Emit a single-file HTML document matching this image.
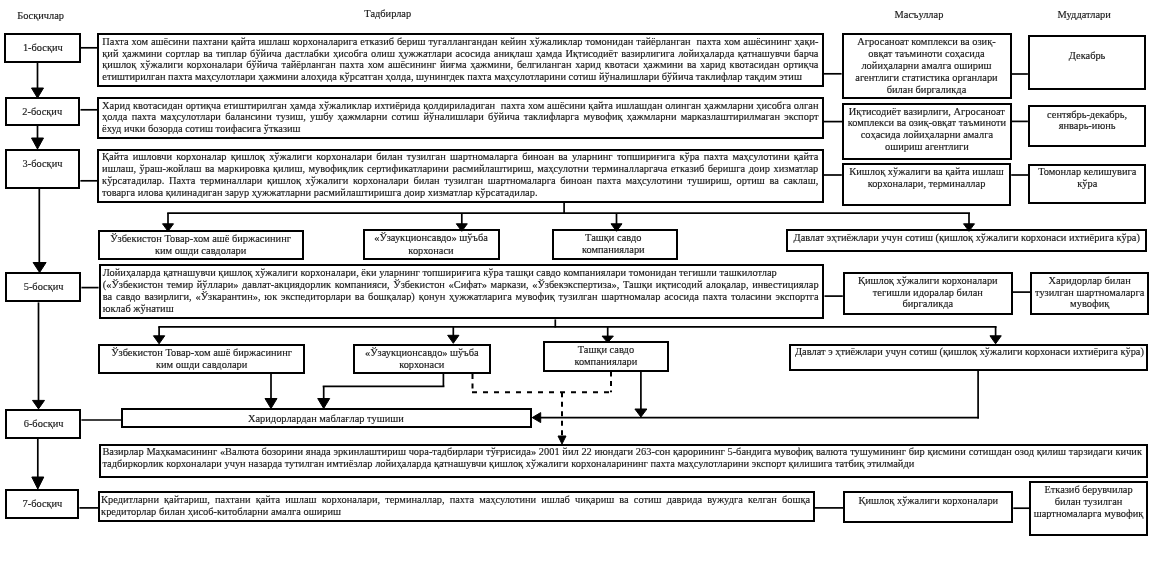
<!DOCTYPE html>
<html><head><meta charset="utf-8"><style>
html,body{margin:0;padding:0;background:#fff;}
body{width:1150px;height:586px;position:relative;overflow:hidden;font-family:"Liberation Serif",serif;color:#1a1a1a;-webkit-text-stroke:0.15px #1a1a1a;}
.bx{position:absolute;border:2px solid #000;box-sizing:border-box;}
.t{position:absolute;white-space:nowrap;line-height:11.5px;font-size:10.4px;}
.t.j{text-align:justify;text-align-last:justify;white-space:normal;}
.t.c{text-align:center;}
svg{position:absolute;left:0;top:0;}
#r{position:absolute;left:0;top:0;width:1150px;height:586px;background:#fff;filter:grayscale(1);}
</style></head><body><div id="r">
<div class="t" style="left:17.2px;top:9.7px;font-size:10.4px">Босқичлар</div>
<div class="t" style="left:364.3px;top:8.0px;font-size:10.4px">Тадбирлар</div>
<div class="t" style="left:894.6px;top:8.5px;font-size:10.4px">Масъуллар</div>
<div class="t" style="left:1057.6px;top:8.5px;font-size:10.4px">Муддатлари</div>
<div class="bx" style="left:4.0px;top:33.0px;width:77.0px;height:30.0px"></div>
<div class="t" style="left:22.9px;top:41.7px;font-size:10.4px">1-босқич</div>
<div class="bx" style="left:5.0px;top:97.0px;width:75.0px;height:29.0px"></div>
<div class="t" style="left:22.3px;top:106.2px;font-size:10.4px">2-босқич</div>
<div class="bx" style="left:5.0px;top:149.0px;width:75.0px;height:40.0px"></div>
<div class="t" style="left:22.6px;top:157.5px;font-size:10.4px">3-босқич</div>
<div class="bx" style="left:5.0px;top:272.0px;width:76.0px;height:30.0px"></div>
<div class="t" style="left:23.7px;top:280.7px;font-size:10.4px">5-босқич</div>
<div class="bx" style="left:5.0px;top:409.0px;width:76.0px;height:30.0px"></div>
<div class="t" style="left:23.7px;top:417.6px;font-size:10.4px">6-босқич</div>
<div class="bx" style="left:5.0px;top:489.0px;width:74.0px;height:30.0px"></div>
<div class="t" style="left:22.5px;top:497.5px;font-size:10.4px">7-босқич</div>
<div class="bx" style="left:97.0px;top:33.0px;width:727.0px;height:54.0px"></div>
<div class="t j" style="left:102.3px;width:716.2px;top:36.3px;font-size:10.4px">Пахта хом ашёсини пахтани қайта ишлаш корхоналарига етказиб бериш тугаллангандан кейин хўжаликлар томонидан тайёрланган&nbsp; пахта хом ашёсининг ҳақи-</div>
<div class="t j" style="left:102.3px;width:716.2px;top:47.8px;font-size:10.4px">қий ҳажмини сортлар ва типлар бўйича дастлабки ҳисобга олиш ҳужжатлари асосида аниқлаш ҳамда Иқтисодиёт вазирлигига лойиҳаларда қатнашувчи барча</div>
<div class="t j" style="left:102.3px;width:716.2px;top:59.3px;font-size:10.4px">қишлоқ хўжалиги корхоналари бўйича тайёрланган пахта хом ашёсининг йиғма ҳажмини, белгиланган харид квотаси ҳажмини ва харид квотасидан ортиқча</div>
<div class="t" style="left:102.3px;width:716.2px;top:70.8px;font-size:10.4px">етиштирилган пахта маҳсулотлари ҳажмини алоҳида кўрсатган ҳолда, шунингдек пахта маҳсулотларини сотиш йўналишлари бўйича таклифлар тақдим этиш</div>
<div class="bx" style="left:97.0px;top:97.0px;width:727.0px;height:42.0px"></div>
<div class="t j" style="left:102.1px;width:716.4px;top:99.8px;font-size:10.4px">Харид квотасидан ортиқча етиштирилган ҳамда хўжаликлар ихтиёрида қолдириладиган&nbsp; пахта хом ашёсини қайта ишлашдан олинган ҳажмларни ҳисобга олган</div>
<div class="t j" style="left:102.1px;width:716.4px;top:111.3px;font-size:10.4px">ҳолда пахта маҳсулотлари балансини тузиш, ушбу ҳажмларни сотиш йўналишлари бўйича таклифларга мувофиқ ҳажмларни марказлаштирилмаган экспорт</div>
<div class="t" style="left:102.1px;width:716.4px;top:122.7px;font-size:10.4px">ёхуд ички бозорда сотиш тоифасига ўтказиш</div>
<div class="bx" style="left:97.0px;top:149.0px;width:727.0px;height:54.0px"></div>
<div class="t j" style="left:102.1px;width:716.2px;top:151.1px;font-size:10.4px">Қайта ишловчи корхоналар қишлоқ хўжалиги корхоналари билан тузилган шартномаларга биноан ва уларнинг топшириғига кўра пахта маҳсулотини қайта</div>
<div class="t j" style="left:102.1px;width:716.2px;top:163.0px;font-size:10.4px">ишлаш, ўраш-жойлаш ва маркировка қилиш, мувофиқлик сертификатларини расмийлаштириш, маҳсулотни терминалларгача етказиб беришга доир хизматлар</div>
<div class="t j" style="left:102.1px;width:716.2px;top:175.0px;font-size:10.4px">кўрсатадилар. Пахта терминаллари қишлоқ хўжалиги корхоналари билан тузилган шартномаларга биноан пахта маҳсулотини тушириш, ортиш ва саклаш,</div>
<div class="t" style="left:102.1px;width:716.2px;top:186.8px;font-size:10.4px">товарга илова қилинадиган зарур ҳужжатларни расмийлаштиришга доир хизматлар кўрсатадилар.</div>
<div class="bx" style="left:99.0px;top:264.0px;width:725.0px;height:55.0px"></div>
<div class="t" style="left:102.8px;width:715.8px;top:266.9px;font-size:10.4px">Лойиҳаларда қатнашувчи қишлоқ хўжалиги корхоналари, ёки уларнинг топшириғига кўра ташқи савдо компаниялари томонидан тегишли ташкилотлар</div>
<div class="t j" style="left:102.8px;width:715.8px;top:278.7px;font-size:10.4px">(«Ўзбекистон темир йўллари» давлат-акциядорлик компанияси, Ўзбекистон «Сифат» маркази, «Ўзбекэкспертиза», Ташқи иқтисодий алоқалар, инвестициялар</div>
<div class="t j" style="left:102.8px;width:715.8px;top:290.6px;font-size:10.4px">ва савдо вазирлиги, «Ўзкарантин», юк экспедиторлари ва бошқалар) қонун ҳужжатларига мувофиқ тузилган шартномалар асосида пахта толасини экспортга</div>
<div class="t" style="left:102.8px;width:715.8px;top:303.0px;font-size:10.4px">юклаб жўнатиш</div>
<div class="bx" style="left:99.0px;top:444.0px;width:1049.0px;height:34.0px"></div>
<div class="t j" style="left:102.4px;width:1039.6px;top:446.4px;font-size:10.4px">Вазирлар Маҳкамасининг «Валюта бозорини янада эркинлаштириш чора-тадбирлари тўғрисида» 2001 йил 22 июндаги 263-сон қарорининг 5-бандига мувофиқ валюта тушумининг бир қисмини сотишдан озод қилиш тарзидаги кичик</div>
<div class="t" style="left:102.4px;width:1039.6px;top:457.6px;font-size:10.4px">тадбиркорлик корхоналари учун назарда тутилган имтиёзлар лойиҳаларда қатнашувчи қишлоқ хўжалиги корхоналарининг пахта маҳсулотларини экспорт қилишига татбиқ этилмайди</div>
<div class="bx" style="left:98.0px;top:491.0px;width:717.0px;height:31.0px"></div>
<div class="t j" style="left:101.1px;width:709.1px;top:494.1px;font-size:10.4px">Кредитларни қайтариш, пахтани қайта ишлаш корхоналари, терминаллар, пахта маҳсулотини ишлаб чиқариш ва сотиш даврида вужудга келган бошқа</div>
<div class="t" style="left:101.1px;width:709.1px;top:505.6px;font-size:10.4px">кредиторлар билан ҳисоб-китобларни амалга ошириш</div>
<div class="bx" style="left:842.0px;top:33.0px;width:170.0px;height:66.0px"></div>
<div class="t c" style="left:626.5px;width:600px;top:36.4px;font-size:10.4px">Агросаноат комплекси ва озиқ-</div>
<div class="t c" style="left:626.5px;width:600px;top:48.3px;font-size:10.4px">овқат таъминоти соҳасида</div>
<div class="t c" style="left:626.5px;width:600px;top:60.0px;font-size:10.4px">лойиҳаларни амалга ошириш</div>
<div class="t c" style="left:626.5px;width:600px;top:71.7px;font-size:10.4px">агентлиги статистика органлари</div>
<div class="t c" style="left:626.5px;width:600px;top:83.8px;font-size:10.4px">билан биргаликда</div>
<div class="bx" style="left:842.0px;top:103.0px;width:170.0px;height:57.0px"></div>
<div class="t c" style="left:626.9px;width:600px;top:105.5px;font-size:10.4px">Иқтисодиёт вазирлиги, Агросаноат</div>
<div class="t c" style="left:626.9px;width:600px;top:117.3px;font-size:10.4px">комплекси ва озиқ-овқат таъминоти</div>
<div class="t c" style="left:626.9px;width:600px;top:129.2px;font-size:10.4px">соҳасида лойиҳаларни амалга</div>
<div class="t c" style="left:626.9px;width:600px;top:140.7px;font-size:10.4px">ошириш агентлиги</div>
<div class="bx" style="left:842.0px;top:163.0px;width:169.0px;height:43.0px"></div>
<div class="t c" style="left:626.5px;width:600px;top:166.0px;font-size:10.4px">Кишлоқ хўжалиги ва қайта ишлаш</div>
<div class="t c" style="left:626.5px;width:600px;top:178.1px;font-size:10.4px">корхоналари, терминаллар</div>
<div class="bx" style="left:843.0px;top:272.0px;width:170.0px;height:43.0px"></div>
<div class="t c" style="left:627.8px;width:600px;top:274.7px;font-size:10.4px">Қишлоқ хўжалиги корхоналари</div>
<div class="t c" style="left:627.8px;width:600px;top:286.5px;font-size:10.4px">тегишли идоралар билан</div>
<div class="t c" style="left:627.8px;width:600px;top:298.3px;font-size:10.4px">биргаликда</div>
<div class="bx" style="left:843.0px;top:491.0px;width:170.0px;height:32.0px"></div>
<div class="t c" style="left:628.3px;width:600px;top:494.7px;font-size:10.4px">Қишлоқ хўжалиги корхоналари</div>
<div class="bx" style="left:1028.0px;top:35.0px;width:118.0px;height:55.0px"></div>
<div class="t c" style="left:787.1px;width:600px;top:49.5px;font-size:10.4px">Декабрь</div>
<div class="bx" style="left:1028.0px;top:105.0px;width:118.0px;height:42.0px"></div>
<div class="t c" style="left:787.1px;width:600px;top:108.9px;font-size:10.4px">сентябрь-декабрь,</div>
<div class="t c" style="left:787.1px;width:600px;top:119.6px;font-size:10.4px">январь-июнь</div>
<div class="bx" style="left:1028.0px;top:164.0px;width:118.0px;height:40.0px"></div>
<div class="t c" style="left:787.3px;width:600px;top:166.2px;font-size:10.4px">Томонлар келишувига</div>
<div class="t c" style="left:787.3px;width:600px;top:177.7px;font-size:10.4px">кўра</div>
<div class="bx" style="left:1030.0px;top:272.0px;width:119.0px;height:43.0px"></div>
<div class="t c" style="left:789.7px;width:600px;top:274.7px;font-size:10.4px">Харидорлар билан</div>
<div class="t c" style="left:789.7px;width:600px;top:286.5px;font-size:10.4px">тузилган шартномаларга</div>
<div class="t c" style="left:789.7px;width:600px;top:298.3px;font-size:10.4px">мувофиқ</div>
<div class="bx" style="left:1029.0px;top:481.0px;width:119.0px;height:55.0px"></div>
<div class="t c" style="left:788.5px;width:600px;top:484.0px;font-size:10.4px">Етказиб берувчилар</div>
<div class="t c" style="left:788.5px;width:600px;top:495.8px;font-size:10.4px">билан тузилган</div>
<div class="t c" style="left:788.5px;width:600px;top:507.5px;font-size:10.4px">шартномаларга мувофиқ</div>
<div class="bx" style="left:98.0px;top:230.0px;width:206.0px;height:30.0px"></div>
<div class="t c" style="left:-99.4px;width:600px;top:232.7px;font-size:10.4px">Ўзбекистон Товар-хом ашё биржасининг</div>
<div class="t c" style="left:-99.4px;width:600px;top:245.2px;font-size:10.4px">ким ошди савдолари</div>
<div class="bx" style="left:363.0px;top:229.0px;width:137.0px;height:31.0px"></div>
<div class="t c" style="left:131.0px;width:600px;top:232.0px;font-size:10.4px">«Ўзаукционсавдо» шўъба</div>
<div class="t c" style="left:131.0px;width:600px;top:244.5px;font-size:10.4px">корхонаси</div>
<div class="bx" style="left:552.0px;top:229.0px;width:126.0px;height:31.0px"></div>
<div class="t c" style="left:313.3px;width:600px;top:232.2px;font-size:10.4px">Ташқи савдо</div>
<div class="t c" style="left:313.3px;width:600px;top:244.2px;font-size:10.4px">компаниялари</div>
<div class="bx" style="left:786.0px;top:229.0px;width:361.0px;height:23.0px"></div>
<div class="t" style="left:793.6px;top:231.7px;font-size:10.4px">Давлат эҳтиёжлари учун сотиш (қишлоқ хўжалиги корхонаси ихтиёрига кўра)</div>
<div class="bx" style="left:98.0px;top:344.0px;width:207.0px;height:30.0px"></div>
<div class="t c" style="left:-98.4px;width:600px;top:346.7px;font-size:10.4px">Ўзбекистон Товар-хом ашё биржасининг</div>
<div class="t c" style="left:-98.4px;width:600px;top:358.5px;font-size:10.4px">ким ошди савдолари</div>
<div class="bx" style="left:353.0px;top:344.0px;width:138.0px;height:30.0px"></div>
<div class="t c" style="left:121.8px;width:600px;top:346.9px;font-size:10.4px">«Ўзаукционсавдо» шўъба</div>
<div class="t c" style="left:121.8px;width:600px;top:358.7px;font-size:10.4px">корхонаси</div>
<div class="bx" style="left:543.0px;top:341.0px;width:126.0px;height:31.0px"></div>
<div class="t c" style="left:305.9px;width:600px;top:344.4px;font-size:10.4px">Ташқи савдо</div>
<div class="t c" style="left:305.9px;width:600px;top:356.1px;font-size:10.4px">компаниялари</div>
<div class="bx" style="left:789.0px;top:344.0px;width:359.0px;height:27.0px"></div>
<div class="t" style="left:795.0px;top:346.4px;font-size:10.4px">Давлат э ҳтиёжлари учун сотиш (қишлоқ хўжалиги корхонаси ихтиёрига кўра)</div>
<div class="bx" style="left:121.0px;top:408.0px;width:411.0px;height:20.0px"></div>
<div class="t" style="left:248.0px;top:413.0px;font-size:10.4px">Харидорлардан маблағлар тушиши</div>
<svg width="1150" height="586" viewBox="0 0 1150 586" stroke="#000" fill="#000">
<line x1="37.5" y1="62.8" x2="37.5" y2="89" stroke-width="1.7"/>
<polygon points="31.5,88.0 43.5,88.0 37.5,98.0"/>
<line x1="37.5" y1="125.8" x2="37.5" y2="139" stroke-width="1.7"/>
<polygon points="31.5,138.0 43.5,138.0 37.5,149.0"/>
<line x1="39.3" y1="188.8" x2="39.3" y2="263" stroke-width="1.7"/>
<polygon points="33.1,262.5 46.1,262.5 39.6,272.5"/>
<line x1="38.5" y1="302.4" x2="38.5" y2="402" stroke-width="1.7"/>
<polygon points="32.5,400.4 44.5,400.4 38.5,408.9"/>
<line x1="37.8" y1="438.7" x2="37.8" y2="477" stroke-width="1.7"/>
<polygon points="31.799999999999997,477.0 43.8,477.0 37.8,489.0"/>
<line x1="80.8" y1="47.8" x2="97.3" y2="47.8" stroke-width="1.7"/>
<line x1="80.5" y1="109.8" x2="97.2" y2="109.8" stroke-width="1.7"/>
<line x1="80.4" y1="180.8" x2="97.0" y2="180.8" stroke-width="1.7"/>
<line x1="81.4" y1="287.6" x2="98.6" y2="287.6" stroke-width="1.7"/>
<line x1="79.4" y1="507.9" x2="98.5" y2="507.9" stroke-width="1.7"/>
<line x1="823.6" y1="73.8" x2="841.6" y2="73.8" stroke-width="1.7"/>
<line x1="1011.5" y1="74.0" x2="1027.9" y2="74.0" stroke-width="1.7"/>
<line x1="823.6" y1="121.6" x2="842.3" y2="121.6" stroke-width="1.7"/>
<line x1="1011.5" y1="121.4" x2="1027.9" y2="121.4" stroke-width="1.7"/>
<line x1="823.6" y1="175.0" x2="841.8" y2="175.0" stroke-width="1.7"/>
<line x1="1011.2" y1="175.0" x2="1028.4" y2="175.0" stroke-width="1.7"/>
<line x1="824.5" y1="296.1" x2="842.8" y2="296.1" stroke-width="1.7"/>
<line x1="1012.9" y1="292.1" x2="1030.2" y2="292.1" stroke-width="1.7"/>
<line x1="815.0" y1="507.9" x2="843.2" y2="507.9" stroke-width="1.7"/>
<line x1="1013.3" y1="508.2" x2="1029.3" y2="508.2" stroke-width="1.7"/>
<line x1="564.1" y1="203.0" x2="564.1" y2="213.0" stroke-width="1.7"/>
<line x1="167.2" y1="213.1" x2="970.0" y2="213.1" stroke-width="1.7"/>
<line x1="168.0" y1="213.1" x2="168.0" y2="226" stroke-width="1.7"/>
<polygon points="162.5,223.8 173.5,223.8 168.0,231.3"/>
<line x1="461.8" y1="213.1" x2="461.8" y2="226" stroke-width="1.7"/>
<polygon points="456.3,223.8 467.3,223.8 461.8,231.3"/>
<line x1="616.5" y1="213.1" x2="616.5" y2="226" stroke-width="1.7"/>
<polygon points="611.0,223.8 622.0,223.8 616.5,231.3"/>
<line x1="969.0" y1="213.1" x2="969.0" y2="226" stroke-width="1.7"/>
<polygon points="963.5,223.8 974.5,223.8 969.0,231.3"/>
<line x1="555.3" y1="319.4" x2="555.3" y2="327.5" stroke-width="1.7"/>
<line x1="158.3" y1="326.8" x2="996.6" y2="326.8" stroke-width="1.7"/>
<line x1="159.1" y1="326.8" x2="159.1" y2="338.8" stroke-width="1.7"/>
<polygon points="153.45,335.8 164.75,335.8 159.1,343.8"/>
<line x1="453.3" y1="326.8" x2="453.3" y2="338.3" stroke-width="1.7"/>
<polygon points="447.65000000000003,335.3 458.95,335.3 453.3,343.3"/>
<line x1="607.7" y1="326.8" x2="607.7" y2="337.6" stroke-width="1.7"/>
<polygon points="602.0500000000001,336.1 613.35,336.1 607.7,342.6"/>
<line x1="995.6" y1="326.8" x2="995.6" y2="338.8" stroke-width="1.7"/>
<polygon points="989.95,335.8 1001.25,335.8 995.6,343.8"/>
<line x1="81.4" y1="420.0" x2="121.2" y2="420.0" stroke-width="1.7"/>
<line x1="271.0" y1="374.0" x2="271.0" y2="400" stroke-width="1.7"/>
<polygon points="265.0,398.5 277.0,398.5 271.0,408.5"/>
<line x1="443.4" y1="374.0" x2="443.4" y2="386.4" stroke-width="1.7"/>
<line x1="322.7" y1="386.4" x2="444.4" y2="386.4" stroke-width="1.7"/>
<line x1="323.7" y1="386.4" x2="323.7" y2="400" stroke-width="1.7"/>
<polygon points="317.7,398.5 329.7,398.5 323.7,408.5"/>
<line x1="640.9" y1="371.6" x2="640.9" y2="410" stroke-width="1.7"/>
<polygon points="634.9,409.0 646.9,409.0 640.9,417.0"/>
<line x1="978.1" y1="370.7" x2="978.1" y2="418.5" stroke-width="1.7"/>
<line x1="539" y1="417.7" x2="978.9" y2="417.7" stroke-width="1.7"/>
<polygon points="540.7,412.6 540.7,422.6 532.2,417.6"/>
<line x1="472.5" y1="374.0" x2="472.5" y2="392.3" stroke-width="2" stroke-dasharray="5 4.5"/>
<line x1="472.0" y1="392.3" x2="611.0" y2="392.3" stroke-width="2" stroke-dasharray="5 6"/>
<line x1="611.0" y1="371.6" x2="611.0" y2="392.3" stroke-width="2" stroke-dasharray="5 4.5"/>
<line x1="562.0" y1="392.3" x2="562.0" y2="436" stroke-width="2" stroke-dasharray="5 4.5"/>
<polygon points="558.0,436.0 566.0,436.0 562.0,444.0"/>
</svg>
</div></body></html>
